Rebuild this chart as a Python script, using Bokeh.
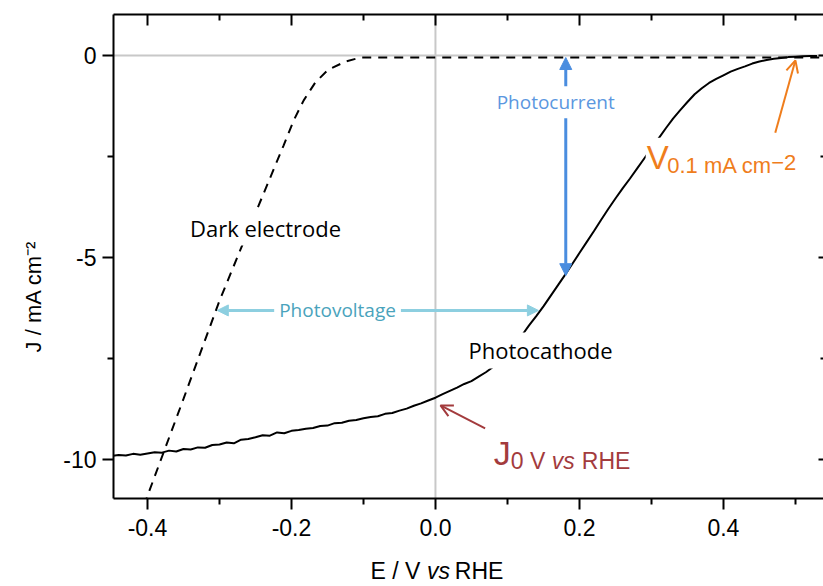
import math
from bokeh.plotting import figure
from bokeh.models import (Range1d, LinearAxis, FixedTicker, Span, Arrow,
                          NormalHead, OpenHead, Label)
from bokeh.embed import file_html
from bokeh.resources import INLINE

# ---------------- data ----------------
photo_E = [
    -0.450, -0.440, -0.430, -0.420, -0.410, -0.400, -0.390, -0.380, -0.370, -0.360,
    -0.350, -0.340, -0.330, -0.320, -0.310, -0.300, -0.290, -0.280, -0.270, -0.260,
    -0.250, -0.240, -0.230, -0.220, -0.210, -0.200, -0.190, -0.180, -0.170, -0.160,
    -0.150, -0.140, -0.130, -0.120, -0.110, -0.100, -0.090, -0.080, -0.070, -0.060,
    -0.050, -0.040, -0.030, -0.020, -0.010, 0.000,
    0.010, 0.020, 0.030, 0.040, 0.050, 0.060, 0.070, 0.080, 0.090, 0.100,
    0.110, 0.120, 0.130, 0.140, 0.150, 0.160, 0.170, 0.180, 0.190, 0.200,
    0.210, 0.220, 0.230, 0.240, 0.250, 0.260, 0.270, 0.280, 0.290, 0.300,
    0.310, 0.320, 0.330, 0.340, 0.350, 0.360, 0.370, 0.380, 0.390, 0.400,
    0.410, 0.420, 0.430, 0.440, 0.450, 0.460, 0.470, 0.480, 0.490, 0.500,
    0.510, 0.520, 0.530]
photo_J = [
    -9.91, -9.89, -9.90, -9.86, -9.88, -9.85, -9.82, -9.83, -9.78, -9.80,
    -9.74, -9.75, -9.70, -9.71, -9.64, -9.63, -9.58, -9.60, -9.51, -9.49,
    -9.45, -9.40, -9.41, -9.33, -9.35, -9.29, -9.27, -9.24, -9.22, -9.17,
    -9.16, -9.10, -9.09, -9.04, -9.02, -8.98, -8.95, -8.93, -8.87, -8.85,
    -8.79, -8.74, -8.67, -8.61, -8.54, -8.47,
    -8.38, -8.30, -8.22, -8.13, -8.06, -7.95, -7.84, -7.71, -7.56, -7.39,
    -7.18, -6.93, -6.68, -6.45, -6.21, -5.95, -5.69, -5.43, -5.16, -4.89,
    -4.62, -4.35, -4.07, -3.80, -3.54, -3.29, -3.05, -2.80, -2.55, -2.30,
    -2.05, -1.80, -1.56, -1.35, -1.15, -0.96, -0.81, -0.68, -0.58, -0.49,
    -0.40, -0.33, -0.27, -0.20, -0.15, -0.11, -0.08, -0.06, -0.04, -0.03,
    -0.02, -0.01, -0.01]

dark_E = [-0.405, -0.400, -0.350, -0.300, -0.250, -0.211, -0.197, -0.183,
          -0.167, -0.149, -0.125, -0.104, 0.000, 0.200, 0.400, 0.540]
dark_J = [-11.15, -10.90, -8.50, -6.07, -3.90, -2.23, -1.61, -1.11,
          -0.67, -0.35, -0.15, -0.05, -0.05, -0.05, -0.05, -0.05]

x_ticks = [-0.4, -0.2, 0.0, 0.2, 0.4]
x_tick_labels = ["-0.4", "-0.2", "0.0", "0.2", "0.4"]
x_minor_ticks = [-0.3, -0.1, 0.1, 0.3, 0.5]
y_ticks = [0, -5, -10]
y_tick_labels = ["0", "-5", "-10"]
y_minor_ticks = [-2.5, -7.5]

# annotation anchors (data coordinates)
photovoltage_J = -6.31
photovoltage_E = (-0.303, 0.143)
photocurrent_E = 0.181
photocurrent_J = (-0.05, -5.45)
v_arrow = (0.472, -1.91, 0.500, -0.12)
j_arrow = (0.069, -9.23, 0.007, -8.66)

# ---------------- figure ----------------
p = figure(width=823, height=586,
           x_range=Range1d(-0.4472, 0.539), y_range=Range1d(-10.965, 1.015),
           output_backend="svg", toolbar_location=None,
           x_axis_location=None, y_axis_location=None,
           min_border_left=113, min_border_top=14, min_border_bottom=88,
           min_border_right=0)
p.outline_line_color = None
p.grid.visible = False
p.background_fill_color = "white"
p.border_fill_color = "white"

TICK_FONT = "Liberation Sans"


def make_axis(ticks, minor, labels, tick_in, tick_out, show_labels, line=True):
    ax = LinearAxis(ticker=FixedTicker(ticks=ticks, minor_ticks=minor))
    ax.major_label_overrides = {t: (s if show_labels else "") for t, s in zip(ticks, labels)}
    ax.axis_line_width = 2
    ax.axis_line_color = "black" if line else None
    ax.major_tick_line_width = 2
    ax.minor_tick_line_width = 2
    ax.major_tick_in = tick_in[0]
    ax.minor_tick_in = tick_in[1]
    ax.major_tick_out = tick_out[0]
    ax.minor_tick_out = tick_out[1]
    ax.major_label_text_font = TICK_FONT
    ax.major_label_text_color = "black"
    if show_labels:
        ax.major_label_text_font_size = "23px"
    else:
        ax.major_label_text_font_size = "0px"
        ax.major_label_standoff = 0
    return ax


xb = make_axis(x_ticks, x_minor_ticks, x_tick_labels, (0, 0), (11, 6), True)
xb.major_label_standoff = 9
p.add_layout(xb, "below")
xt = make_axis(x_ticks, x_minor_ticks, x_tick_labels, (11, 6), (0, 0), False)
p.add_layout(xt, "above")
yl = make_axis(y_ticks, y_minor_ticks, y_tick_labels, (0, 0), (11, 6), True)
yl.major_label_standoff = 6
p.add_layout(yl, "left")
yr = make_axis(y_ticks, y_minor_ticks, y_tick_labels, (5, 3), (0, 0), False, line=False)
p.add_layout(yr, "right")

# zero lines
p.add_layout(Span(location=0, dimension="height", line_color="#c8c8c8",
                  line_width=2, level="underlay"))
p.add_layout(Span(location=0, dimension="width", line_color="#c8c8c8",
                  line_width=2, level="underlay"))

# curves
p.line(dark_E, dark_J, line_color="black", line_width=2, line_dash="9 7")
p.line(photo_E, photo_J, line_color="black", line_width=2)

# arrows
PV_ARROW = "#8dcfe0"
PV_TEXT = "#4aa3bc"
PC_ARROW = "#4a8ddf"
PC_TEXT = "#5b97e0"
ORANGE = "#ef7d1c"
DARKRED = "#a33b3d"

p.add_layout(Arrow(x_start=photovoltage_E[0], y_start=photovoltage_J,
                   x_end=photovoltage_E[1], y_end=photovoltage_J,
                   line_color=PV_ARROW, line_width=3,
                   start=NormalHead(size=11, fill_color=PV_ARROW, line_color=PV_ARROW),
                   end=NormalHead(size=11, fill_color=PV_ARROW, line_color=PV_ARROW)))
p.add_layout(Arrow(x_start=photocurrent_E, y_start=photocurrent_J[1],
                   x_end=photocurrent_E, y_end=photocurrent_J[0],
                   line_color=PC_ARROW, line_width=3,
                   start=NormalHead(size=12, fill_color=PC_ARROW, line_color=PC_ARROW),
                   end=NormalHead(size=12, fill_color=PC_ARROW, line_color=PC_ARROW)))
p.add_layout(Arrow(x_start=v_arrow[0], y_start=v_arrow[1], x_end=v_arrow[2], y_end=v_arrow[3],
                   line_color=ORANGE, line_width=2,
                   end=OpenHead(size=12, line_color=ORANGE, line_width=2)))
p.add_layout(Arrow(x_start=j_arrow[0], y_start=j_arrow[1], x_end=j_arrow[2], y_end=j_arrow[3],
                   line_color=DARKRED, line_width=2,
                   end=OpenHead(size=12, line_color=DARKRED, line_width=2)))


def lab(text, x, y, size, color="black", font="Open Sans", align="center",
        baseline="middle", bg=None, style="normal", xo=0, yo=0, angle=0, pad=0,
        place=None):
    l = Label(x=x, y=y, text=text, text_font=font, text_font_size=size,
              text_color=color, text_align=align, text_baseline=baseline,
              text_font_style=style, x_offset=xo, y_offset=yo, angle=angle)
    if bg:
        l.background_fill_color = bg
        l.padding = pad
    if place:
        p.add_layout(l, place)
    else:
        p.add_layout(l)
    return l


# text annotations
lab("Dark electrode", -0.236, -4.26, "22px", bg="white", pad=3)
lab("Photocathode", 0.146, -7.30, "22px", bg="white", pad=3)
lab("Photovoltage", -0.136, photovoltage_J, "19px", color=PV_TEXT, bg="white", pad=5)
lab("Photocurrent", 0.167, -1.16, "19px", color=PC_TEXT, bg="white", pad=3)

# V 0.1 mA cm-2
lab("V", 0.292, -2.52, "33px", color=ORANGE, font="Liberation Sans",
    align="left", baseline="alphabetic", bg="white", pad=1)
lab("0.1 mA cm", 0.322, -2.52, "22px", color=ORANGE, font="Liberation Sans",
    align="left", baseline="alphabetic", yo=-8)
lab("\u22122", 0.322, -2.52, "22px", color=ORANGE, font="Liberation Sans",
    align="left", baseline="alphabetic", xo=104, yo=-5)

# J 0 V vs RHE
lab("J", 0.081, -9.83, "34px", color=DARKRED, font="Liberation Sans",
    align="left", baseline="alphabetic")
lab("0 V", 0.081, -9.83, "23px", color=DARKRED, font="Liberation Sans",
    align="left", baseline="alphabetic", xo=17, yo=-8)
lab("vs", 0.081, -9.83, "23px", color=DARKRED, font="Liberation Sans",
    align="left", baseline="alphabetic", style="italic", xo=58, yo=-8)
lab("RHE", 0.081, -9.83, "23px", color=DARKRED, font="Liberation Sans",
    align="left", baseline="alphabetic", xo=88, yo=-8)

# axis titles: labels living in the side panels (not clipped by the frame),
# positioned in data coordinates
lab("J / mA cm\u207b\u00b2", -0.5583, -7.35, "22px", font="Liberation Sans",
    align="left", baseline="middle", angle=math.pi / 2, place="left")
lab("vs", -0.0119, -12.76, "23px", font="Liberation Sans", align="left",
    baseline="alphabetic", style="italic", place="left")
lab("E / V\u2003\u2002RHE", -0.0903, -12.76, "23px", font="Liberation Sans",
    align="left", baseline="alphabetic", place="below")

open("out.html", "w").write(file_html(p, INLINE))
